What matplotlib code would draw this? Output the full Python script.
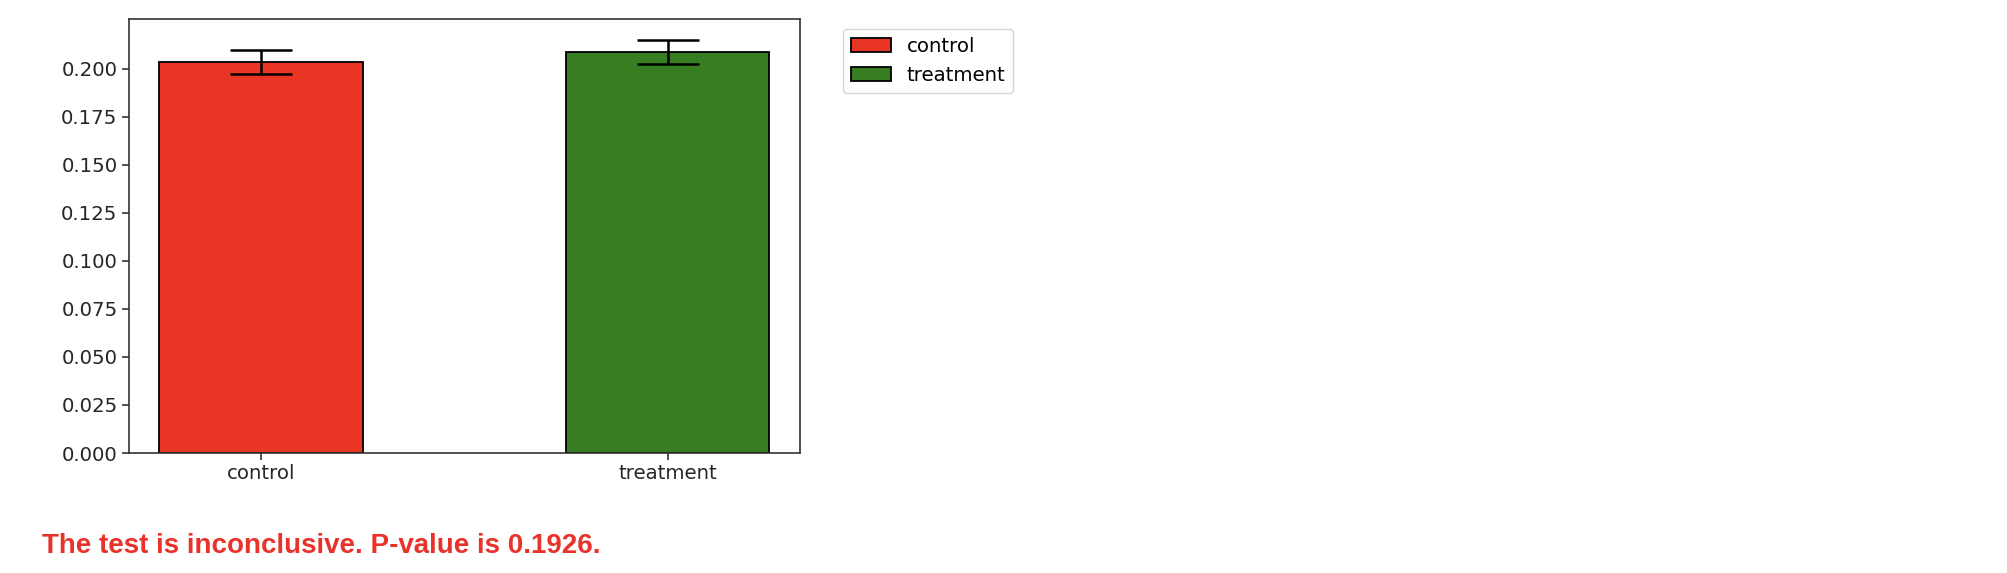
import numpy as np
import matplotlib.pyplot as plt

# --- Data ---
groups = ["control", "treatment"]
rates = [0.2033, 0.2085]
errors = [0.0062, 0.0062]
bar_colors = ["#e83524", "#377d22"]
p_value = 0.1926

plt.rcParams['font.family'] = ['DejaVu Sans']
plt.rcParams['font.size'] = 14.2

fig = plt.figure(figsize=(20.08, 5.73), dpi=100)
ax = fig.add_axes([0.0642, 0.2094, 0.3342, 0.7574])

x = np.arange(len(groups))
bars = ax.bar(x, rates, width=0.5, color=bar_colors, edgecolor='black',
              linewidth=1.3, label=groups)
ax.errorbar(x, rates, yerr=errors, fmt='none', ecolor='black',
            elinewidth=1.8, capsize=22, capthick=1.8)

ax.set_xticks(x)
ax.set_xticklabels(groups)
ax.set_xlim(-0.325, 1.325)
ax.set_ylim(0, 0.2258)
ax.set_yticks(np.arange(0, 0.201, 0.025))
ax.yaxis.set_major_formatter(plt.FormatStrFormatter('%.3f'))

for spine in ax.spines.values():
    spine.set_linewidth(1.2)
    spine.set_color('#333333')
ax.tick_params(width=1.2, length=4.7, colors='#333333', labelcolor='#262626')

ax.legend(handles=list(bars), labels=groups, loc='upper left',
          bbox_to_anchor=(1.05, 1), borderaxespad=0.5)

# p-value message below the chart
fig.text(0.021, 0.035, f"The test is inconclusive. P-value is {p_value}.",
         color='#e8322a', fontsize=20, fontweight='bold',
         family=['Liberation Sans', 'DejaVu Sans'])

plt.savefig("out.png", dpi=100)
